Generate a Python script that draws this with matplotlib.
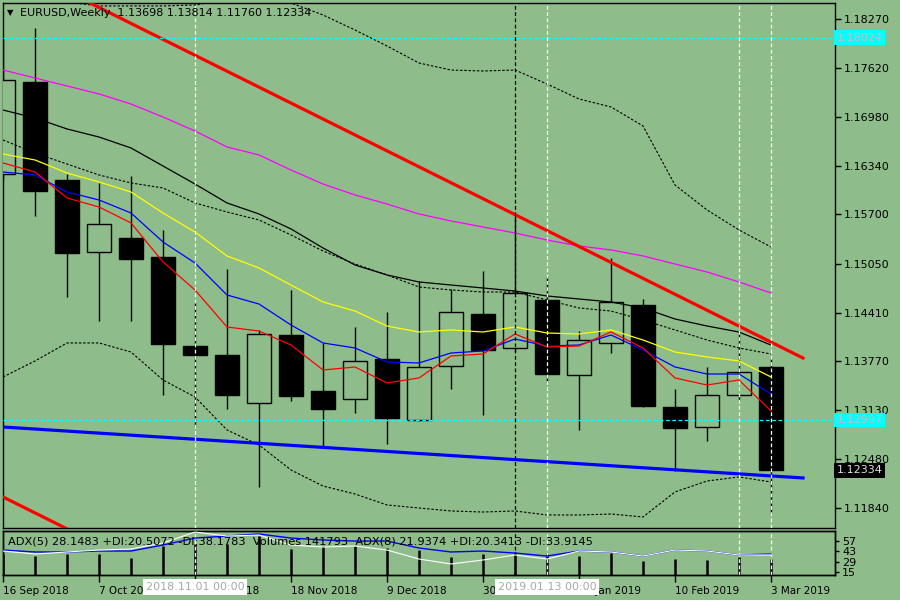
import numpy as np
import matplotlib
matplotlib.use('Agg')
import matplotlib.pyplot as plt
from matplotlib.transforms import blended_transform_factory

BG = '#8fbc8b'
plt.rcParams['font.family'] = 'DejaVu Sans'

# weekly EURUSD candles, 16 Sep 2018 .. 3 Mar 2019
opens = np.array([1.16232, 1.17442, 1.16153, 1.15206, 1.15390, 1.15141, 1.13970, 1.13852,
                  1.13221, 1.14115, 1.13379, 1.13273, 1.13799, 1.12997, 1.13707, 1.14391,
                  1.13944, 1.14575, 1.13589, 1.14010, 1.14509, 1.13168, 1.12905, 1.13326,
                  1.13698])
highs = np.array([1.18020, 1.18152, 1.16232, 1.16114, 1.16206, 1.15496, 1.14549, 1.14983,
                  1.14181, 1.14707, 1.14010, 1.14220, 1.14417, 1.14825, 1.14720, 1.14956,
                  1.15719, 1.14891, 1.14167, 1.15127, 1.14588, 1.13405, 1.13694, 1.14167,
                  1.13814])
lows = np.array([1.16153, 1.15680, 1.14615, 1.14299, 1.14299, 1.13326, 1.12905, 1.13142,
                 1.12116, 1.13247, 1.12642, 1.13089, 1.12682, 1.12984, 1.13405, 1.13063,
                 1.13891, 1.13497, 1.12866, 1.13878, 1.13168, 1.12327, 1.12721, 1.13247,
                 1.11760])
closes = np.array([1.17468, 1.16008, 1.15193, 1.15574, 1.15114, 1.13997, 1.13852, 1.13326,
                   1.14128, 1.13313, 1.13142, 1.13773, 1.13024, 1.13694, 1.14417, 1.13918,
                   1.14667, 1.13602, 1.14049, 1.14549, 1.13181, 1.12892, 1.13326, 1.13628,
                   1.12334])

# indicator lines
ma_magenta = [1.17599, 1.17494, 1.17389, 1.17284, 1.17152, 1.16981, 1.16797, 1.16587,
              1.16482, 1.16284, 1.16100, 1.15956, 1.15837, 1.15706, 1.15614, 1.15535,
              1.15456, 1.15364, 1.15285, 1.15233, 1.15154, 1.15048, 1.14943, 1.14812,
              1.14667]
ma_black = [1.17073, 1.16968, 1.16824, 1.16718, 1.16574, 1.16337, 1.16100, 1.15851,
            1.15706, 1.15509, 1.15259, 1.15035, 1.14904, 1.14812, 1.14772, 1.14733,
            1.14693, 1.14628, 1.14588, 1.14549, 1.14470, 1.14325, 1.14233, 1.14154,
            1.13983]
bb_mid = [1.16679, 1.16508, 1.16363, 1.16219, 1.16114, 1.16048, 1.15851, 1.15732,
          1.15627, 1.15430, 1.15219, 1.15048, 1.14904, 1.14746, 1.14707, 1.14680,
          1.14680, 1.14575, 1.14470, 1.14430, 1.14312, 1.14181, 1.14049, 1.13944,
          1.13865]
bb_up = [1.18914, 1.18651, 1.18494, 1.18441, 1.18441, 1.18441, 1.18454, 1.18520,
         1.18533, 1.18480, 1.18323, 1.18125, 1.17915, 1.17691, 1.17599, 1.17586,
         1.17599, 1.17415, 1.17218, 1.17113, 1.16863, 1.16087, 1.15759, 1.15496,
         1.15272]
bb_low = [1.13563, 1.13773, 1.14010, 1.14010, 1.13891, 1.13523, 1.13300, 1.12866,
          1.12669, 1.12340, 1.12129, 1.12024, 1.11880, 1.11840, 1.11801, 1.11787,
          1.11801, 1.11748, 1.11748, 1.11761, 1.11722, 1.12051, 1.12195, 1.12248,
          1.12182]
ma_yellow = [1.16495, 1.16416, 1.16245, 1.16127, 1.15995, 1.15719, 1.15469, 1.15154,
             1.14996, 1.14772, 1.14549, 1.14430, 1.14233, 1.14154, 1.14181, 1.14154,
             1.14220, 1.14141, 1.14128, 1.14181, 1.14049, 1.13891, 1.13826, 1.13773,
             1.13563]
ma_blue = [1.16258, 1.16219, 1.15995, 1.15890, 1.15719, 1.15338, 1.15062, 1.14641,
           1.14522, 1.14246, 1.14010, 1.13944, 1.13760, 1.13747, 1.13878, 1.13905,
           1.14062, 1.13970, 1.13983, 1.14115, 1.13918, 1.13694, 1.13602, 1.13602,
           1.13339]
ma_red = [1.16377, 1.16258, 1.15916, 1.15798, 1.15588, 1.15075, 1.14707, 1.14220,
          1.14167, 1.13983, 1.13655, 1.13694, 1.13484, 1.13550, 1.13839, 1.13865,
          1.14128, 1.13957, 1.13970, 1.14154, 1.13944, 1.13550, 1.13457, 1.13523,
          1.13116]

# drawn objects (bar index, price)
red_trend_x, red_trend_y = [2.72, 25.0], [1.18480, 1.13812]
red_chan_x, red_chan_y = [0.0, 2.0], [1.11985, 1.11566]
blue_trend_x, blue_trend_y = [0.0, 25.0], [1.12905, 1.12235]
hlevels = [1.18024, 1.12997]
vl_white = [6, 17, 23, 24]
vl_black = [16]
vl_labels = {6: '2018.11.01 00:00', 17: '2019.01.13 00:00'}

# sub window
volumes = [186100, 168400, 186100, 186100, 150700, 257000, 274700, 274700, 345600,
           230400, 257000, 257000, 239300, 221600, 159500, 186100, 203800, 186100,
           168400, 195000, 124100, 141800, 132900, 159500, 141793]
adx_blue = [44.3, 41.7, 41.7, 43.0, 43.0, 51.0, 60.3, 63.0, 65.7, 60.3, 57.7, 56.3, 56.3,
            47.0, 41.7, 43.0, 40.3, 36.3, 43.0, 41.7, 36.3, 44.3, 43.0, 37.7, 39.0]
adx_white = [43.0, 39.0, 41.7, 44.3, 45.7, 53.7, 68.3, 63.0, 64.3, 51.0, 48.3, 49.7, 44.3,
             32.3, 25.7, 31.0, 37.7, 32.3, 43.0, 41.7, 36.3, 44.3, 43.0, 37.7, 37.7]

price_ticks = [1.18270, 1.17620, 1.16980, 1.16340, 1.15700, 1.15050, 1.14410,
               1.13770, 1.13130, 1.12480, 1.11840]
tick_idx = [0, 3, 6, 9, 12, 15, 18, 21, 24]
tick_labels = ['16 Sep 2018', '7 Oct 2018', '28 Oct 2018', '18 Nov 2018', '9 Dec 2018',
               '30 Dec 2018', '20 Jan 2019', '10 Feb 2019', '3 Mar 2019']
adx_ticks = [15, 29, 43, 57]

fig = plt.figure(figsize=(9, 6), dpi=100, facecolor=BG)
ax = fig.add_axes([3/900, 72/600, 832/900, 525/600], facecolor=BG)
ax2 = fig.add_axes([3/900, 25/600, 832/900, 44/600], facecolor=BG)

x = np.arange(len(opens))
bull = closes >= opens
body_lo = np.minimum(opens, closes)
body_hi = np.maximum(opens, closes)
ax.vlines(x, lows, highs, color='black', lw=1, zorder=2)
ax.bar(x, body_hi - body_lo, bottom=body_lo, width=0.78,
       color=[BG if b else 'black' for b in bull], edgecolor='black', linewidth=1, zorder=3)

dot = (0, (2.2, 1.6))
ax.plot(x, bb_up, color='black', lw=0.8, ls=dot, zorder=4)
ax.plot(x, bb_mid, color='black', lw=0.8, ls=dot, zorder=4)
ax.plot(x, bb_low, color='black', lw=0.8, ls=dot, zorder=4)
ax.plot(x, ma_magenta, color='#ff00ff', lw=0.9, zorder=4)
ax.plot(x, ma_black, color='black', lw=0.9, zorder=4)
ax.plot(x, ma_yellow, color='#ffff00', lw=0.9, zorder=4)
ax.plot(x, ma_blue, color='#0000ff', lw=0.9, zorder=4)
ax.plot(x, ma_red, color='#ff0000', lw=0.9, zorder=4)

ax.plot(red_trend_x, red_trend_y, color='#ff0000', lw=2.3, zorder=5)
ax.plot(red_chan_x, red_chan_y, color='#ff0000', lw=2.3, zorder=5)
ax.plot(blue_trend_x, blue_trend_y, color='#0000ff', lw=2.3, zorder=5)

for lv in hlevels:
    ax.axhline(lv, color='#00ffff', lw=0.9, ls=(0, (3, 2)), zorder=6)
for a in (ax, ax2):
    for v in vl_white:
        a.axvline(v, color='white', lw=0.9, ls=(0, (3, 2)), zorder=7)
    for v in vl_black:
        a.axvline(v, color='black', lw=0.9, ls=(0, (3, 2)), zorder=7)

ax.set_xlim(0, 26)
ax.set_ylim(1.11577, 1.18480)
ax.set_xticks([])
ax.yaxis.tick_right()
ax.set_yticks(price_ticks)
ax.set_yticklabels([f'{p:.5f}' for p in price_ticks])
ax.tick_params(axis='y', direction='out', length=4, width=1, labelsize=8, pad=2)
for s in ax.spines.values():
    s.set_color('black')
    s.set_linewidth(1)

# price markers on the scale
tr = blended_transform_factory(ax.transAxes, ax.transData)
for lv in hlevels:
    ax.text(1.002, lv, f'{lv:.5f}', transform=tr, ha='left', va='center', fontsize=8,
            color='#c0c0c0', clip_on=False, zorder=10,
            bbox=dict(boxstyle='square,pad=0.2', fc='#00ffff', ec='none'))
ax.text(1.002, closes[-1], f'{closes[-1]:.5f}', transform=tr, ha='left', va='center',
        fontsize=8, color='#e0e0e0', clip_on=False, zorder=10,
        bbox=dict(boxstyle='square,pad=0.2', fc='black', ec='none'))

fig.text(7/900, 1 - 13/600, '\u25bc', fontsize=6, va='center', ha='left')
fig.text(20/900, 1 - 13/600, 'EURUSD,Weekly  %.5f %.5f %.5f %.5f'
         % (opens[-1], highs[-1], lows[-1], closes[-1]),
         fontsize=8, va='center', ha='left')

# sub window: volumes + ADX
ax2.vlines(x, 0, volumes, color='black', lw=1.8, zorder=2)
ax2.set_ylim(0, max(volumes) * 44 / 39)
ax2.set_xlim(0, 26)
ax2.set_yticks([])
ax2.set_xticks(tick_idx)
ax2.set_xticklabels(tick_labels, ha='left')
ax2.tick_params(axis='x', direction='out', length=5, width=1, labelsize=7.5, pad=3)
for s in ax2.spines.values():
    s.set_color('black')
    s.set_linewidth(1)

axa = ax2.twinx()
axa.set_xlim(0, 26)
axa.plot(x, adx_blue, color='#0000ff', lw=1, zorder=3)
axa.plot(x, adx_white, color='white', lw=0.8, zorder=3)
axa.set_ylim(11, 69.7)
axa.set_yticks(adx_ticks)
axa.tick_params(axis='y', direction='out', length=3, width=1, labelsize=8, pad=2)
for s in axa.spines.values():
    s.set_color('black')
    s.set_linewidth(1)

fig.text(8/900, 1 - 542/600,
         'ADX(5) 28.1483 +DI:20.5072 -DI:38.1783  Volumes 141793  '
         'ADX(8) 21.9374 +DI:20.3413 -DI:33.9145',
         fontsize=8.2, va='center', ha='left')

trb = blended_transform_factory(ax2.transData, fig.transFigure)
for v, lab in vl_labels.items():
    fig.text(v, 1 - 587/600, lab, transform=trb, ha='center', va='center', fontsize=8,
             color='#a8a8a8', zorder=10,
             bbox=dict(boxstyle='square,pad=0.25', fc='white', ec='none'))

fig.savefig('out.png', dpi=100, facecolor=BG)
